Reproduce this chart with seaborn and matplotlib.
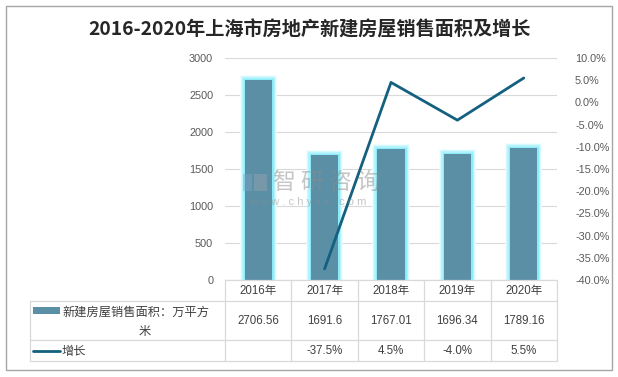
import numpy as np
import pandas as pd
import matplotlib
matplotlib.use("Agg")
import matplotlib.pyplot as plt
import matplotlib.patheffects as pe
from matplotlib.patches import Rectangle
from matplotlib.lines import Line2D
import seaborn as sns

# ---- data ----
years = ["2016年", "2017年", "2018年", "2019年", "2020年"]
area = [2706.56, 1691.6, 1767.01, 1696.34, 1789.16]
growth = [np.nan, -0.375, 0.045, -0.040, 0.055]
area_labels = ["2706.56", "1691.6", "1767.01", "1696.34", "1789.16"]
growth_labels = ["", "-37.5%", "4.5%", "-4.0%", "5.5%"]
right_ticks = [-40.0, -35.0, -30.0, -25.0, -20.0, -15.0, -10.0, -5.0, 0.0, 5.0, 10.0]
title = "2016-2020年上海市房地产新建房屋销售面积及增长"
bar_name = "新建房屋销售面积：万平方"
bar_name2 = "米"
line_name = "增长"

sns.set_theme(style="white")
FAM = ["Liberation Sans", "Noto Sans CJK SC", "DejaVu Sans"]
plt.rcParams["font.family"] = FAM

BAR_C = "#5B8FA6"
LINE_C = "#13607F"
GRID_C = "#D9D9D9"
TICK_C = "#595959"
TXT_C = "#404040"

W, H = 618, 377
fig = plt.figure(figsize=(W / 100, H / 100), dpi=100)
fx = lambda px: px / W
fy = lambda py: 1 - py / H

# outer frame
fig.add_artist(Rectangle((fx(6), fy(370)), fx(612) - fx(6), fy(6) - fy(370),
                         transform=fig.transFigure, fill=False, ec="#A6A6A6", lw=1.0))

fig.text(0.5, fy(30), title, ha="center", va="center", fontsize=13.8,
         fontweight="bold", color="#262626", family=["Noto Sans CJK SC", "DejaVu Sans"])

L, R, T, B = 225, 557, 58, 280
ax = fig.add_axes([fx(L), fy(B), fx(R) - fx(L), fy(T) - fy(B)])

df = pd.DataFrame({"year": years, "area": area, "growth": growth})
sns.barplot(data=df, x="year", y="area", color=BAR_C, saturation=1, width=0.41, ax=ax)
for p in ax.patches:
    p.set_path_effects([
        pe.Stroke(linewidth=7, foreground="#F0FDFF"),
        pe.Stroke(linewidth=5.5, foreground="#D2F9FE"),
        pe.Stroke(linewidth=4, foreground="#B0F3FC"),
        pe.Stroke(linewidth=2.2, foreground="#8CEBF8"),
        pe.Normal(),
    ])
    p.set_edgecolor("none")

ax.set_xlim(-0.5, len(years) - 0.5)
ax.set_ylim(0, 3000)
ax.set_yticks(np.arange(0, 3001, 500))
ax.yaxis.grid(True, color=GRID_C, lw=0.8)
ax.set_axisbelow(True)
ax.tick_params(axis="x", length=0, labelbottom=False)
ax.tick_params(axis="y", length=0, pad=8.5, labelsize=7.8, labelcolor=TICK_C)
ax.set_xlabel("")
ax.set_ylabel("")
for s in ax.spines.values():
    s.set_visible(False)

ax2 = ax.twinx()
pos = np.arange(len(years))
sns.lineplot(x=pos, y=df["growth"].values, ax=ax2, color=LINE_C, lw=2.0)
ax2.set_ylim(-0.4, 0.1)
ax2.set_yticks([v / 100 for v in right_ticks])
ax2.set_yticklabels([f"{v:.1f}%" for v in right_ticks])
ax2.tick_params(axis="y", length=0, pad=13, labelsize=7.8, labelcolor=TICK_C)
ax2.set_ylabel("")
for s in ax2.spines.values():
    s.set_visible(False)
ax2.set_xlim(-0.5, len(years) - 0.5)

# ---- data table ----
TL = 30
rows = [280, 301, 340, 361]
cw = (R - L) / len(years)
cols = [L + cw * i for i in range(len(years) + 1)]

def hline(y, x0, x1):
    fig.add_artist(Line2D([fx(x0), fx(x1)], [fy(y), fy(y)], transform=fig.transFigure,
                          color=GRID_C, lw=0.9))

def vline(x, y0, y1):
    fig.add_artist(Line2D([fx(x), fx(x)], [fy(y0), fy(y1)], transform=fig.transFigure,
                          color=GRID_C, lw=0.9))

hline(rows[0], L, R)
for y in rows[1:]:
    hline(y, TL, R)
for x in cols:
    vline(x, rows[0], rows[3])
vline(TL, rows[1], rows[3])

for i, yr in enumerate(years):
    cx = (cols[i] + cols[i + 1]) / 2
    fig.text(fx(cx), fy(291), yr, ha="center", va="center", fontsize=8.3, color=TXT_C)
    fig.text(fx(cx), fy(321), area_labels[i], ha="center", va="center", fontsize=8.3, color=TXT_C)
    fig.text(fx(cx), fy(351), growth_labels[i], ha="center", va="center", fontsize=8.3, color=TXT_C)

fig.add_artist(Rectangle((fx(33), fy(313.5)), fx(60) - fx(33), fy(306.5) - fy(313.5),
                         transform=fig.transFigure, color=BAR_C, lw=0))
fig.text(fx(62), fy(312), bar_name, ha="left", va="center", fontsize=8.8, color=TXT_C,
         family=["Noto Sans CJK SC"])
fig.text(fx(145), fy(331), bar_name2, ha="center", va="center", fontsize=8.8, color=TXT_C,
         family=["Noto Sans CJK SC"])
fig.add_artist(Line2D([fx(33), fx(60)], [fy(351), fy(351)], transform=fig.transFigure,
                      color=LINE_C, lw=2.0))
fig.text(fx(62), fy(351.5), line_name, ha="left", va="center", fontsize=8.8, color=TXT_C,
         family=["Noto Sans CJK SC"])

# ---- watermark ----
fig.add_artist(Rectangle((fx(243), fy(191)), fx(252) - fx(243), fy(174) - fy(191),
                         transform=fig.transFigure, color="#7DA6C8", alpha=0.45, lw=0))
fig.add_artist(Rectangle((fx(254), fy(191)), fx(267) - fx(254), fy(174) - fy(191),
                         transform=fig.transFigure, color="#9AA3AD", alpha=0.45, lw=0))
fig.text(fx(326), fy(182), "智 研 咨 询", ha="center", va="center", fontsize=16.5,
         color="#8C8C8C", alpha=0.5, family=["Noto Sans CJK SC"])
fig.text(fx(308), fy(202), "w w w . c h y x x . c o m", ha="center", va="center",
         fontsize=8, color="#8C8C8C", alpha=0.5)

fig.savefig("out.png", dpi=100)
